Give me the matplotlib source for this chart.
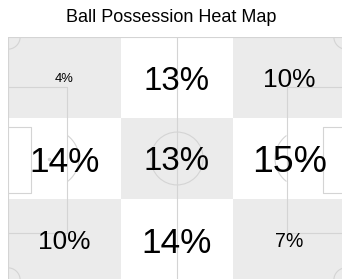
import numpy as np
import matplotlib
matplotlib.use("Agg")
import matplotlib.pyplot as plt
from matplotlib.patches import Rectangle, Ellipse

plt.rcParams['font.family'] = ['Liberation Sans', 'DejaVu Sans']

title = "Ball Possession Heat Map"
# possession share per zone (rows top->bottom, cols left->right), percent
values = [
    [4, 13, 10],
    [14, 13, 15],
    [10, 14, 7],
]
labels = [[f"{v}%" for v in row] for row in values]

PITCH_L, PITCH_W = 120, 80
LINE = "#d4d4d4"
GRAY = "#ebebeb"

fig = plt.figure(figsize=(3.42, 2.79), dpi=100)
ax = fig.add_axes([8/342, -1/279, 338/342, 243/279])
ax.set_xlim(0, PITCH_L)
ax.set_ylim(PITCH_W, 0)
ax.axis("off")

nrows, ncols = len(values), len(values[0])
cw, ch = PITCH_L / ncols, PITCH_W / nrows
for r in range(nrows):
    for c in range(ncols):
        color = GRAY if (r + c) % 2 == 0 else "white"
        ax.add_patch(Rectangle((c * cw, r * ch), cw, ch, facecolor=color,
                               edgecolor="none", zorder=0))

lw = 0.8
kw = dict(color=LINE, lw=lw, zorder=1, solid_capstyle="butt")
# outer boundary + halfway line
ax.plot([0, PITCH_L, PITCH_L, 0, 0], [0, 0, PITCH_W, PITCH_W, 0], **kw)
ax.plot([PITCH_L/2, PITCH_L/2], [0, PITCH_W], **kw)
# centre circle
ax.add_patch(Ellipse((PITCH_L/2, PITCH_W/2), 18.6, 17.4, fill=False,
                     edgecolor=LINE, lw=lw, zorder=1))
box_d, box_y0, box_y1 = 21.0, 16.5, 64.5
ga_d, ga_y0, ga_y1 = 8.2, 29.6, 51.4
spot = 14.6
for side in (0, 1):
    def X(x):
        return x if side == 0 else PITCH_L - x
    ax.plot([X(0), X(box_d), X(box_d), X(0)], [box_y0, box_y0, box_y1, box_y1], **kw)
    ax.plot([X(0), X(ga_d), X(ga_d), X(0)], [ga_y0, ga_y0, ga_y1, ga_y1], **kw)
    ax.plot([X(spot)], [PITCH_W/2], marker="o", ms=1.5, color=LINE, zorder=1)
    t = np.linspace(-np.pi/2, np.pi/2, 200)
    ax_ = spot + 10.6 * np.cos(t)
    ay_ = PITCH_W/2 + 9.6 * np.sin(t)
    m = ax_ >= box_d
    ax.plot([X(v) for v in ax_[m]], ay_[m], **kw)
# corner arcs
t = np.linspace(0, np.pi/2, 50)
for cx, cy, sx, sy in [(0, 0, 1, 1), (PITCH_L, 0, -1, 1), (0, PITCH_W, 1, -1), (PITCH_L, PITCH_W, -1, -1)]:
    ax.plot(cx + sx * 4.3 * np.cos(t), cy + sy * 4.0 * np.sin(t), **kw)

for r in range(nrows):
    for c in range(ncols):
        v = values[r][c]
        ax.text((c + 0.5) * cw, (r + 0.5) * ch, labels[r][c], ha="center",
                va="center_baseline", fontsize=2.95 + 1.6 * v, color="black", zorder=3)

fig.text(0.5, 1 - 17/279, title, ha="center", va="center", fontsize=13)
fig.savefig("out.png", dpi=100)
